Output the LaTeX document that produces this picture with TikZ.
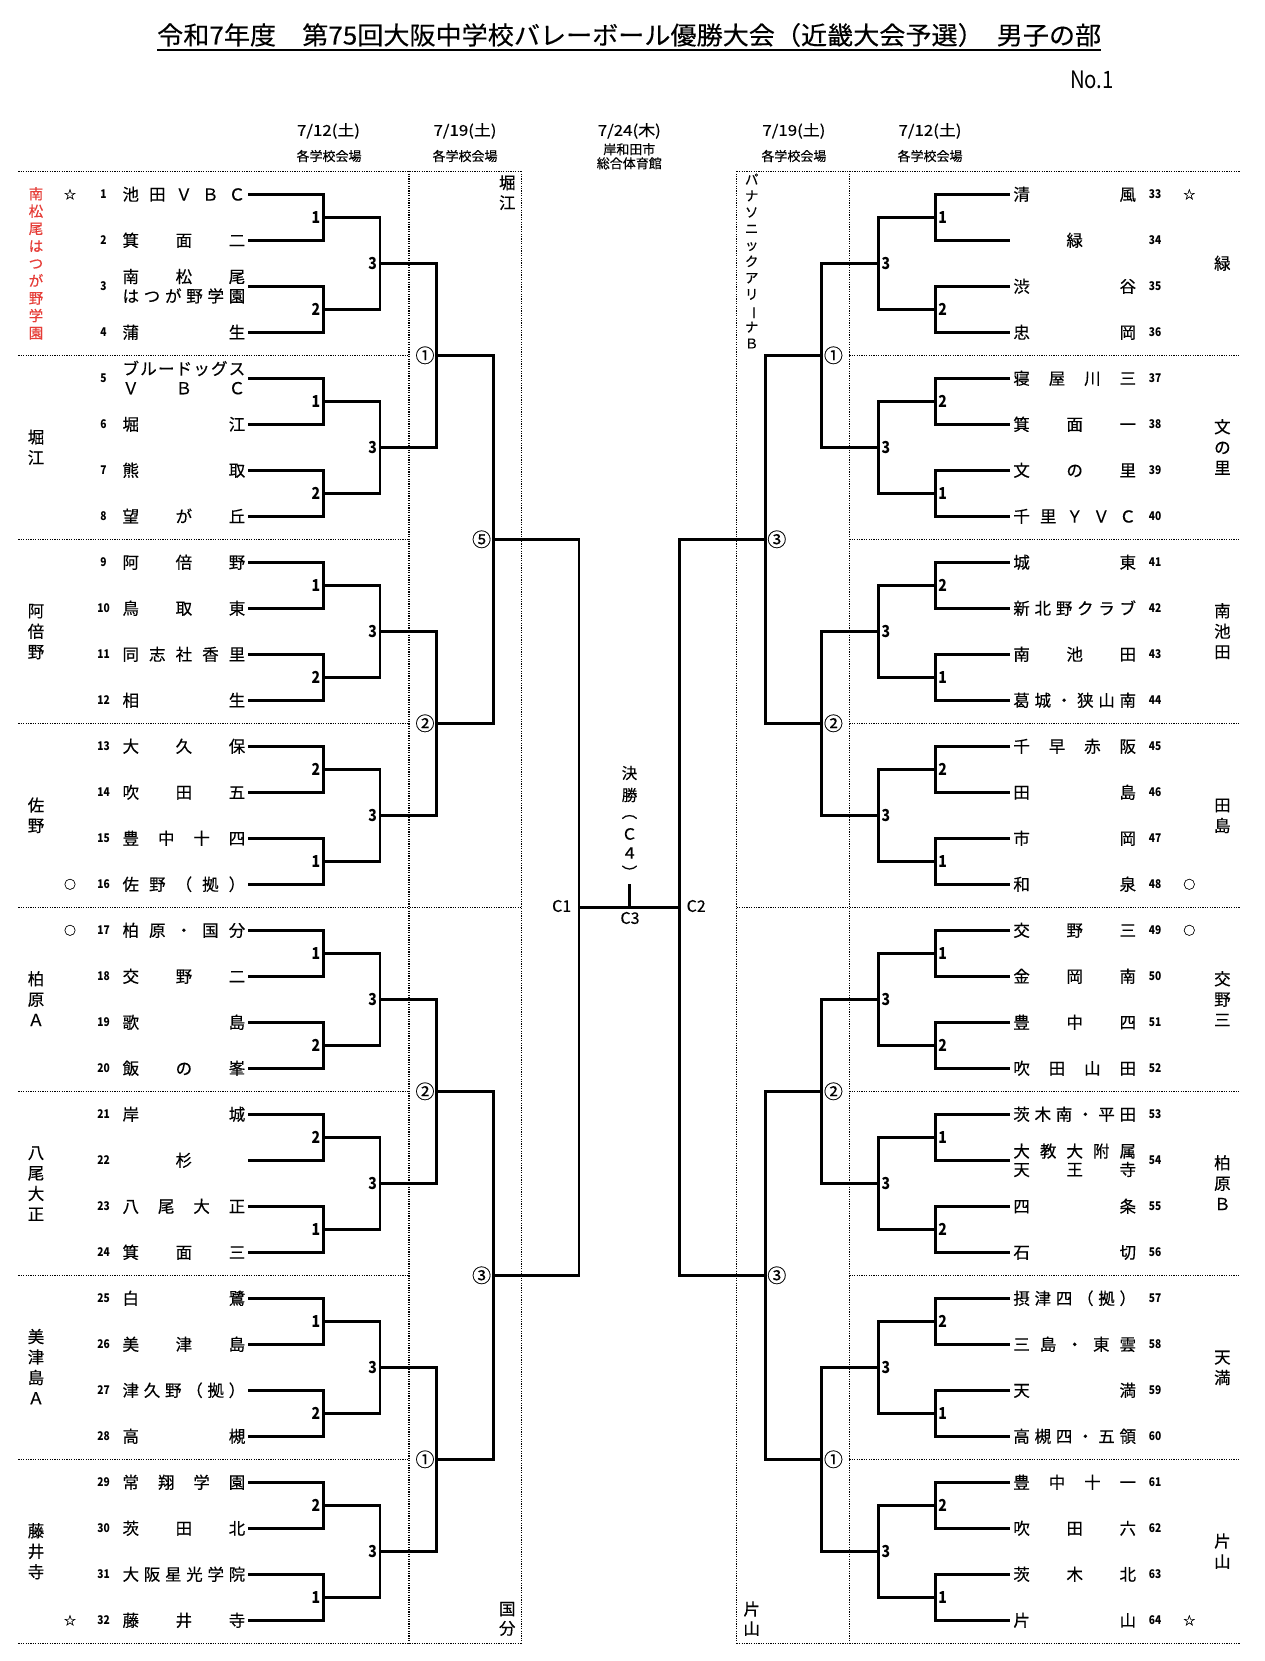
\documentclass[tikz,border=0pt]{standalone}
\usepackage{fontspec}
\setmainfont{Noto Sans CJK JP}[FakeBold=0.3]
\newfontfamily\narrowf[FakeStretch=0.85]{Noto Sans CJK JP}
\usepackage{graphicx}
\definecolor{redlab}{RGB}{230,60,55}
\tikzset{
  br/.style={line width=2.8pt, line join=miter, line cap=butt},
  dotl/.style={line width=1.2pt, dash pattern=on 1.2pt off 1.2pt},
  nmtxt/.style={inner sep=0pt, font=\fontsize{16.5}{18}\selectfont, text height=14.5pt, text depth=2pt},
  numtxt/.style={inner sep=0pt, font=\narrowf\bfseries\fontsize{12}{12}\selectfont},
  rlab/.style={inner sep=0pt, font=\narrowf\bfseries\fontsize{16.5}{17}\selectfont},
  clab/.style={inner sep=0pt, font=\fontsize{19}{19}\selectfont},
  reglab/.style={inner sep=0pt, font=\fontsize{16.5}{17}\selectfont, text height=14.5pt, text depth=2pt},
  redreg/.style={inner sep=0pt, font=\fontsize{14.5}{15}\selectfont, text height=12.8pt, text depth=1.7pt, text=redlab},
  kanalab/.style={inner sep=0pt, font=\fontsize{13.5}{14}\selectfont, text height=11.9pt, text depth=1.6pt},
  hdr/.style={inner sep=0pt, font=\fontsize{15}{15}\selectfont},
  hdrs/.style={inner sep=0pt, font=\fontsize{13}{13}\selectfont},
  mk/.style={inner sep=0pt, font=\fontsize{12}{12}\selectfont},
  ctxt/.style={inner sep=0pt, font=\fontsize{16}{16}\selectfont},
  fintxt/.style={inner sep=0pt, font=\fontsize{15.5}{16}\selectfont},
}
% place n characters evenly between x0 and x0+106.2
\newcommand\tname[5]{%
  \foreach \c [count=\i] in {#5}{%
    \pgfmathsetmacro\xx{ifthenelse(#4==1,#2+53.1,#2+(\i-1)*106.2/max(#4-1,1))}%
    \node[nmtxt] (#1-\i) at (\xx,#3) {\c};}}
\newcommand\ty[1]{\pgfmathsetmacro\yy{194.3+(#1-1)*46}}
\newcommand\tL[3]{\ty{#1}\tname{nL#1}{130.8}{\yy}{#2}{#3}}
\newcommand\tR[3]{\ty{#1}\tname{nR#1}{1021.6}{\yy}{#2}{#3}}
\newcommand\tLL[5]{\ty{#1}\tname{nL#1a}{130.8}{\yy-9.7}{#2}{#3}\tname{nL#1b}{130.8}{\yy+9.7}{#4}{#5}}
\newcommand\tRR[5]{\ty{#1}\tname{nR#1a}{1021.6}{\yy-9.2}{#2}{#3}\tname{nR#1b}{1021.6}{\yy+9.2}{#4}{#5}}
% vertical stacked label
\newcommand\vlab[7]{\foreach \c [count=\i] in {#7}{\pgfmathsetmacro\vy{#4+(\i-(#6+1)/2)*#5}\node[#2] (#1-\i) at (#3,\vy) {\c};}}
\newcommand\datebox[1]{\resizebox{63pt}{\height}{#1}}
\begin{document}
\begin{tikzpicture}[x=1pt,y=-1pt]
\useasboundingbox (0,0) rectangle (1264,1661);
\fill[white] (0,0) rectangle (1264,1661);

% ---------- title ----------
\node[inner sep=0pt] (title) at (629.2,35) {\resizebox{944pt}{\height}{\fontsize{25}{25}\selectfont 令和7年度\hspace{1em}第75回大阪中学校バレーボール優勝大会（近畿大会予選）\hspace{0.5em}男子の部}};
\draw[line width=2pt] (157.3,50) -- (1101.1,50);
\node[inner sep=0pt, font=\narrowf\fontsize{24}{24}\selectfont] (no) at (1092,80) {No.1};

% ---------- header ----------
\node[hdr] (d1) at (328.5,131) {\datebox{7/12(土)}};
\node[hdrs] (v1) at (329,156) {各学校会場};
\node[hdr] (d2) at (465,131) {\datebox{7/19(土)}};
\node[hdrs] (v2) at (465,156) {各学校会場};
\node[hdr] (d3) at (629.3,131) {\datebox{7/24(木)}};
\node[hdrs] (v3a) at (629.3,149.3) {岸和田市};
\node[hdrs] (v3b) at (629.3,163.3) {総合体育館};
\node[hdr] (d4) at (793.9,131) {\datebox{7/19(土)}};
\node[hdrs] (v4) at (793.9,156) {各学校会場};
\node[hdr] (d5) at (930,131) {\datebox{7/12(土)}};
\node[hdrs] (v5) at (930,156) {各学校会場};

% ---------- dotted frames ----------
\foreach \k in {1,2,3,5,6,7}{\pgfmathsetmacro\yy{171.3+184*\k}
  \draw[dotl] (18.3,\yy) -- (409,\yy);
  \draw[dotl] (849.4,\yy) -- (1240.1,\yy);}
\foreach \yy in {171.3,907.3,1643.3}{
  \draw[dotl] (18.3,\yy) -- (521.7,\yy);
  \draw[dotl] (736.7,\yy) -- (1240.1,\yy);}
\draw[dotl] (409,171.3) -- (409,1643.3);
\draw[dotl] (521.7,171.3) -- (521.7,1643.3);
\draw[dotl] (736.7,171.3) -- (736.7,1643.3);
\draw[dotl] (849.4,171.3) -- (849.4,1643.3);

% ---------- coordinates ----------
\foreach \k in {1,...,32}{\ty{\k}\coordinate (tL\k) at (248.3,\yy);\coordinate (tR\k) at (1010.1,\yy);}
\foreach \p in {1,...,16}{\pgfmathsetmacro\yy{194.3+(2*\p-1.5)*46}\coordinate (jL1-\p) at (323.3,\yy);\coordinate (jR1-\p) at (935.1,\yy);}
\foreach \p in {1,...,8}{\pgfmathsetmacro\yy{194.3+(4*\p-2.5)*46}\coordinate (jL2-\p) at (380,\yy);\coordinate (jR2-\p) at (878.4,\yy);}
\foreach \p in {1,...,4}{\pgfmathsetmacro\yy{194.3+(8*\p-4.5)*46}\coordinate (jL3-\p) at (436.7,\yy);\coordinate (jR3-\p) at (821.7,\yy);}
\foreach \p in {1,2}{\pgfmathsetmacro\yy{194.3+(16*\p-8.5)*46}\coordinate (jL4-\p) at (493.3,\yy);\coordinate (jR4-\p) at (765.1,\yy);}
\coordinate (c1) at (579,907.3);
\coordinate (c2) at (679.4,907.3);
\coordinate (c3) at (629.2,907.3);
\coordinate (c4) at (629.2,884);

% ---------- bracket ----------
\foreach \p in {1,...,16}{\pgfmathtruncatemacro\a{2*\p-1}\pgfmathtruncatemacro\b{2*\p}
  \draw[br] (tL\a) -| (jL1-\p) |- (tL\b);
  \draw[br] (tR\a) -| (jR1-\p) |- (tR\b);}
\foreach \p in {1,...,8}{\pgfmathtruncatemacro\a{2*\p-1}\pgfmathtruncatemacro\b{2*\p}
  \draw[br] (jL1-\a) -| (jL2-\p) |- (jL1-\b);
  \draw[br] (jR1-\a) -| (jR2-\p) |- (jR1-\b);}
\foreach \p in {1,...,4}{\pgfmathtruncatemacro\a{2*\p-1}\pgfmathtruncatemacro\b{2*\p}
  \draw[br] (jL2-\a) -| (jL3-\p) |- (jL2-\b);
  \draw[br] (jR2-\a) -| (jR3-\p) |- (jR2-\b);}
\foreach \p in {1,2}{\pgfmathtruncatemacro\a{2*\p-1}\pgfmathtruncatemacro\b{2*\p}
  \draw[br] (jL3-\a) -| (jL4-\p) |- (jL3-\b);
  \draw[br] (jR3-\a) -| (jR4-\p) |- (jR3-\b);}
\draw[br] (jL4-1) -| (c1) |- (jL4-2);
\draw[br] (jR4-1) -| (c2) |- (jR4-2);
\draw[br] (c1) -- (c2);
\draw[br] (c4) -- (c3);

% ---------- round labels ----------
\foreach \p/\v in {1/1,2/2,3/1,4/2,5/1,6/2,7/2,8/1,9/1,10/2,11/2,12/1,13/1,14/2,15/2,16/1}
  {\node[rlab,anchor=east] (lL1-\p) at ([xshift=-3pt]jL1-\p) {\v};}
\foreach \p/\v in {1/1,2/2,3/2,4/1,5/2,6/1,7/2,8/1,9/1,10/2,11/1,12/2,13/2,14/1,15/2,16/1}
  {\node[rlab,anchor=west] (lR1-\p) at ([xshift=3pt]jR1-\p) {\v};}
\foreach \p in {1,...,8}{
  \node[rlab,anchor=east] (lL2-\p) at ([xshift=-3pt]jL2-\p) {3};
  \node[rlab,anchor=west] (lR2-\p) at ([xshift=3pt]jR2-\p) {3};}
\foreach \p/\v in {1/①,2/②,3/②,4/①}{
  \node[clab,anchor=east] (lL3-\p) at ([xshift=-2pt]jL3-\p) {\v};
  \node[clab,anchor=west] (lR3-\p) at ([xshift=2pt]jR3-\p) {\v};}
\node[clab,anchor=east] (lL4-1) at ([xshift=-2pt]jL4-1) {⑤};
\node[clab,anchor=east] (lL4-2) at ([xshift=-2pt]jL4-2) {③};
\node[clab,anchor=west] (lR4-1) at ([xshift=2pt]jR4-1) {③};
\node[clab,anchor=west] (lR4-2) at ([xshift=2pt]jR4-2) {③};

% ---------- final ----------
\node[ctxt] (lc1) at (561.7,906) {C1};
\node[ctxt] (lc2) at (696.2,906) {C2};
\node[ctxt] (lc3) at (630,918) {C3};
\node[fintxt] (f1) at (629.5,773) {決};
\node[fintxt] (f2) at (629.5,795) {勝};
\node[fintxt] (f3) at (629.5,817) {︵};
\node[fintxt] (f4) at (629.5,834) {Ｃ};
\node[fintxt] (f5) at (629.5,853) {４};
\node[fintxt] (f6) at (629.5,872) {︶};

% ---------- team numbers ----------
\foreach \k in {1,...,32}{\ty{\k}\pgfmathtruncatemacro\m{\k+32}
  \node[numtxt] (numL\k) at (103.5,\yy) {\k};
  \node[numtxt] (numR\k) at (1155,\yy) {\m};}

% ---------- marks ----------
\ty{1}\node[mk] (mkL1) at (70,\yy) {☆};
\ty{16}\node[mk] (mkL16) at (70,\yy) {○};
\ty{17}\node[mk] (mkL17) at (70,\yy) {○};
\ty{32}\node[mk] (mkL32) at (70,\yy) {☆};
\ty{1}\node[mk] (mkR1) at (1189.3,\yy) {☆};
\ty{16}\node[mk] (mkR16) at (1189.3,\yy) {○};
\ty{17}\node[mk] (mkR17) at (1189.3,\yy) {○};
\ty{32}\node[mk] (mkR32) at (1189.3,\yy) {☆};

% ---------- left team names ----------
\tL{1}{5}{池,田,Ｖ,Ｂ,Ｃ}
\tL{2}{3}{箕,面,二}
\tLL{3}{3}{南,松,尾}{6}{は,つ,が,野,学,園}
\tL{4}{2}{蒲,生}
\tLL{5}{7}{ブ,ル,ー,ド,ッ,グ,ス}{3}{Ｖ,Ｂ,Ｃ}
\tL{6}{2}{堀,江}
\tL{7}{2}{熊,取}
\tL{8}{3}{望,が,丘}
\tL{9}{3}{阿,倍,野}
\tL{10}{3}{鳥,取,東}
\tL{11}{5}{同,志,社,香,里}
\tL{12}{2}{相,生}
\tL{13}{3}{大,久,保}
\tL{14}{3}{吹,田,五}
\tL{15}{4}{豊,中,十,四}
\tL{16}{5}{佐,野,（,拠,）}
\tL{17}{5}{柏,原,・,国,分}
\tL{18}{3}{交,野,二}
\tL{19}{2}{歌,島}
\tL{20}{3}{飯,の,峯}
\tL{21}{2}{岸,城}
\tL{22}{1}{杉}
\tL{23}{4}{八,尾,大,正}
\tL{24}{3}{箕,面,三}
\tL{25}{2}{白,鷺}
\tL{26}{3}{美,津,島}
\tL{27}{6}{津,久,野,（,拠,）}
\tL{28}{2}{高,槻}
\tL{29}{4}{常,翔,学,園}
\tL{30}{3}{茨,田,北}
\tL{31}{6}{大,阪,星,光,学,院}
\tL{32}{3}{藤,井,寺}

% ---------- right team names ----------
\tR{1}{2}{清,風}
\tR{2}{1}{緑}
\tR{3}{2}{渋,谷}
\tR{4}{2}{忠,岡}
\tR{5}{4}{寝,屋,川,三}
\tR{6}{3}{箕,面,一}
\tR{7}{3}{文,の,里}
\tR{8}{5}{千,里,Ｙ,Ｖ,Ｃ}
\tR{9}{2}{城,東}
\tR{10}{6}{新,北,野,ク,ラ,ブ}
\tR{11}{3}{南,池,田}
\tR{12}{6}{葛,城,・,狭,山,南}
\tR{13}{4}{千,早,赤,阪}
\tR{14}{2}{田,島}
\tR{15}{2}{市,岡}
\tR{16}{2}{和,泉}
\tR{17}{3}{交,野,三}
\tR{18}{3}{金,岡,南}
\tR{19}{3}{豊,中,四}
\tR{20}{4}{吹,田,山,田}
\tR{21}{6}{茨,木,南,・,平,田}
\tRR{22}{5}{大,教,大,附,属}{3}{天,王,寺}
\tR{23}{2}{四,条}
\tR{24}{2}{石,切}
\tR{25}{6}{摂,津,四,（,拠,）}
\tR{26}{5}{三,島,・,東,雲}
\tR{27}{2}{天,満}
\tR{28}{6}{高,槻,四,・,五,領}
\tR{29}{4}{豊,中,十,一}
\tR{30}{3}{吹,田,六}
\tR{31}{3}{茨,木,北}
\tR{32}{2}{片,山}

% ---------- region labels ----------
\vlab{gL1}{redreg}{36}{263.3}{17.4}{9}{南,松,尾,は,つ,が,野,学,園}
\vlab{gL2}{reglab}{36}{447.3}{20.5}{2}{堀,江}
\vlab{gL3}{reglab}{36}{631.3}{20.5}{3}{阿,倍,野}
\vlab{gL4}{reglab}{36}{815.3}{20.5}{2}{佐,野}
\vlab{gL5}{reglab}{36}{999.3}{20.5}{3}{柏,原,Ａ}
\vlab{gL6}{reglab}{36}{1183.3}{20.5}{4}{八,尾,大,正}
\vlab{gL7}{reglab}{36}{1367.3}{20.5}{4}{美,津,島,Ａ}
\vlab{gL8}{reglab}{36}{1551.3}{20.5}{3}{藤,井,寺}
\vlab{gR1}{reglab}{1222.4}{263.3}{20.5}{1}{緑}
\vlab{gR2}{reglab}{1222.4}{447.3}{20.5}{3}{文,の,里}
\vlab{gR3}{reglab}{1222.4}{631.3}{20.5}{3}{南,池,田}
\vlab{gR4}{reglab}{1222.4}{815.3}{20.5}{2}{田,島}
\vlab{gR5}{reglab}{1222.4}{999.3}{20.5}{3}{交,野,三}
\vlab{gR6}{reglab}{1222.4}{1183.3}{20.5}{3}{柏,原,Ｂ}
\vlab{gR7}{reglab}{1222.4}{1367.3}{20.5}{2}{天,満}
\vlab{gR8}{reglab}{1222.4}{1551.3}{20.5}{2}{片,山}

% ---------- venue labels in the boxes ----------
\vlab{bxL1}{reglab}{507.3}{192.7}{20}{2}{堀,江}
\vlab{bxL2}{reglab}{507.3}{1618.5}{19.5}{2}{国,分}
\vlab{bxR2}{reglab}{751.7}{1618.8}{19.5}{2}{片,山}
\vlab{bxR1}{kanalab}{751.7}{261.3}{16.4}{11}{パ,ナ,ソ,ニ,ッ,ク,ア,リ,{\rotatebox[origin=c]{-90}{ー}},ナ,Ｂ}
\end{tikzpicture}
\end{document}
